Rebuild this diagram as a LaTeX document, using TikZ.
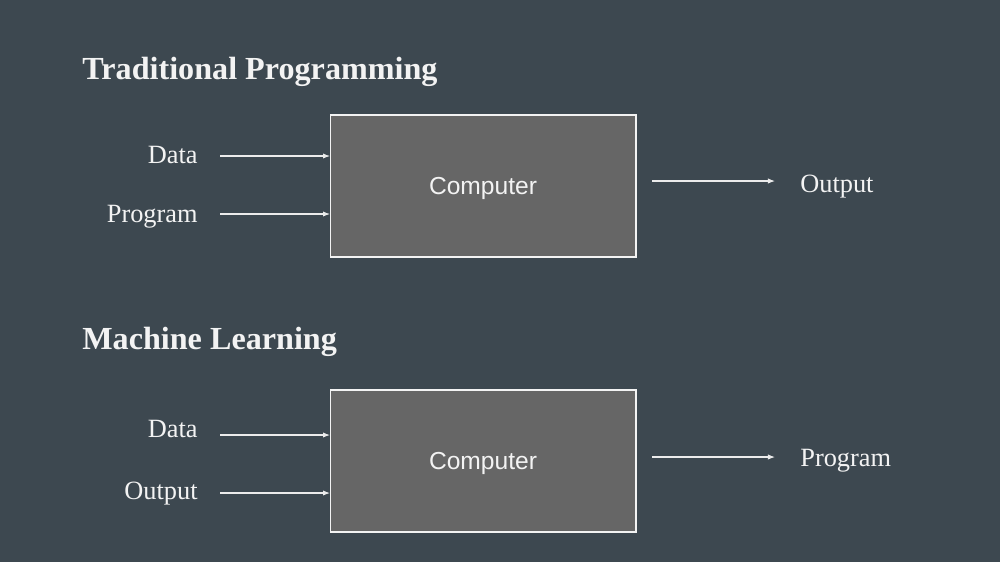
\documentclass[tikz,border=0pt]{standalone}
\usepackage{fontspec}
\setmainfont{Liberation Serif}
\newfontfamily\boxfont{Liberation Sans}
\usetikzlibrary{arrows.meta, positioning}
\definecolor{slate}{HTML}{3D4850}
\definecolor{boxgray}{HTML}{666666}
\definecolor{inkwhite}{HTML}{F3F3F3}

\begin{document}
\begin{tikzpicture}[x=0.02cm, y=-0.02cm,
    slidetitle/.style={text=inkwhite, inner sep=0pt, anchor=base west, font=\bfseries\fontsize{18.3}{22}\selectfont},
    iolabel/.style={text=inkwhite, inner sep=0pt, font=\fontsize{15}{18}\selectfont},
    compbox/.style={draw=inkwhite, fill=boxgray, line width=0.6pt, outer sep=0pt, minimum width=6.12cm, minimum height=2.84cm, text depth=0pt, text=inkwhite, font=\boxfont\fontsize{14}{16}\selectfont},
    flow/.style={draw=white!85!gray, line width=0.6pt, -{Latex[length=4pt, width=3pt]}}]
\useasboundingbox (0,0) rectangle (1000,562);
\fill[slate] (0,0) rectangle (1000,562);

\node[slidetitle] (tradtitle) at (82,79) {Traditional Programming};
\node[compbox] (tradbox) at (483,186) {Computer};
\node[iolabel, anchor=base east] (tradData) at (198,163) {Data};
\node[iolabel, anchor=base east] (tradProgram) at (198,222) {Program};
\node[iolabel, anchor=base west] (tradOutput) at (800,192) {Output};
\coordinate (tradDataIn) at (220,156);
\coordinate (tradProgramIn) at (220,214);
\coordinate (tradOutFrom) at (652,181);
\coordinate (tradOutTo) at (775,181);
\draw[flow] (tradDataIn) -- (tradDataIn -| tradbox.west);
\draw[flow] (tradProgramIn) -- (tradProgramIn -| tradbox.west);
\draw[flow] (tradOutFrom) -- (tradOutTo);

\node[slidetitle] (mltitle) at (82,349) {Machine Learning};
\node[compbox] (mlbox) at (483,461) {Computer};
\node[iolabel, anchor=base east] (mlData) at (198,437) {Data};
\node[iolabel, anchor=base east] (mlOutput) at (198,499) {Output};
\node[iolabel, anchor=base west] (mlProgram) at (800,466) {Program};
\coordinate (mlDataIn) at (220,435);
\coordinate (mlOutputIn) at (220,493);
\coordinate (mlOutFrom) at (652,457);
\coordinate (mlOutTo) at (775,457);
\draw[flow] (mlDataIn) -- (mlDataIn -| mlbox.west);
\draw[flow] (mlOutputIn) -- (mlOutputIn -| mlbox.west);
\draw[flow] (mlOutFrom) -- (mlOutTo);
\end{tikzpicture}
\end{document}
